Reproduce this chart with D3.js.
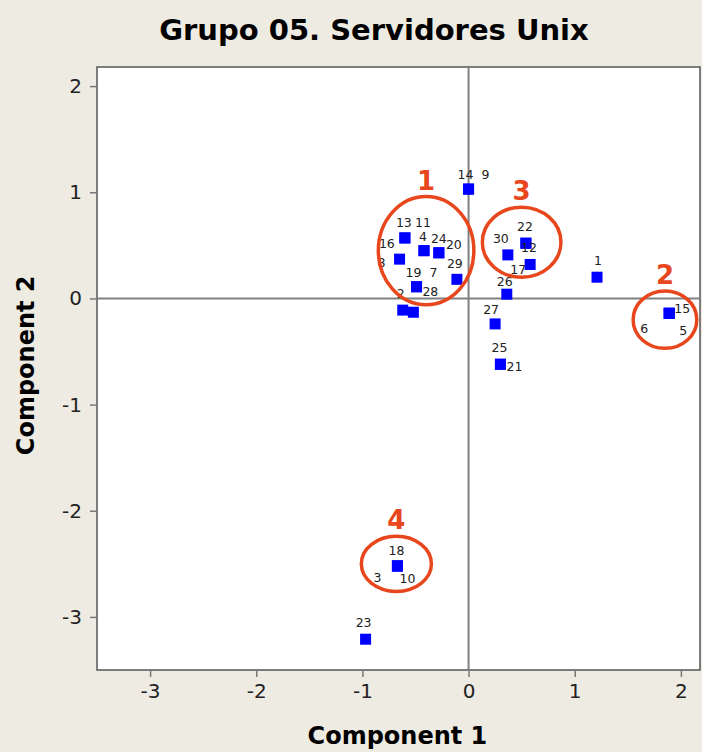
<!DOCTYPE html>
<html>
<head>
<meta charset="utf-8">
<script src="https://cdn.jsdelivr.net/npm/d3@7"></script>
<style>
  body { margin: 0; background: #eeebe2; }
  .tick-lbl { font-family: "DejaVu Sans", Verdana, sans-serif; font-size: 20px; fill: #222; }
  .pt-lbl { font-family: "DejaVu Sans", Verdana, sans-serif; font-size: 12.5px; fill: #222; }
  .ttl { font-family: "DejaVu Sans", Verdana, sans-serif; font-weight: bold; fill: #000; }
</style>
</head>
<body>
<div id="chart"></div>
<script>
// observations (score plot, components 1 and 2)
const obsIds = [1, 2, 3, 4, 5, 6, 7, 8, 9, 10, 11, 12, 13, 14, 15, 16, 17, 18, 19, 20, 21, 22, 23, 24, 25, 26, 27, 28, 29, 30];
const comp1 = [1.21, -0.62, -0.67, -0.42, 1.89, 1.89, -0.49, -0.65, 0.0, -0.67, -0.42, 0.54, -0.6, 0.0, 1.89, -0.6, 0.58, -0.67, -0.49, -0.28, 0.3, 0.54, -0.97, -0.28, 0.3, 0.36, 0.25, -0.52, -0.11, 0.37];
const comp2 = [0.2, -0.11, -2.52, 0.45, -0.14, -0.14, 0.11, 0.37, 1.03, -2.52, 0.45, 0.52, 0.57, 1.03, -0.14, 0.57, 0.32, -2.52, 0.11, 0.43, -0.62, 0.52, -3.21, 0.43, -0.62, 0.04, -0.24, -0.13, 0.18, 0.41];
const xTicks = [-3, -2, -1, 0, 1, 2];
const yTicks = [-3, -2, -1, 0, 1, 2];

// hand-drawn cluster marks
const groupIds = ['1', '2', '3', '4'];
const groupCx = [-0.4, 1.85, 0.5, -0.68];
const groupCy = [0.45, -0.2, 0.53, -2.5];
const groupRx = [0.45, 0.3, 0.37, 0.33];
const groupRy = [0.51, 0.27, 0.33, 0.26];

// label offsets (px) around each marker
const labelOffsets = {
  1: [1, -16], 2: [-2, -16], 3: [-20, 12], 4: [-1, -14], 5: [14, 18], 6: [-25, 16],
  7: [17, -14], 8: [-18, 4], 9: [17, -14], 10: [10, 13], 11: [-1, -28], 12: [3, 5],
  13: [-1, -15], 14: [-3, -14], 15: [13, -4], 16: [-18, 6], 17: [-12, 6], 18: [-1, -15],
  19: [-3, -14], 20: [15, -8], 21: [14, 3], 22: [-1, -16], 23: [-2, -16], 24: [0, -14],
  25: [-1, -16], 26: [-2, -12], 27: [-4, -14], 28: [17, -20], 29: [-2, -15], 30: [-7, -16]
};

const W = 702, H = 752;
const m = { left: 97, right: 2, top: 67, bottom: 82 };

const svg = d3.select('#chart').append('svg').attr('width', W).attr('height', H);
svg.append('rect').attr('width', W).attr('height', H).attr('fill', '#eeebe2');

const x = d3.scaleLinear().domain([-3.5, 2.18]).range([m.left, W - m.right]);
const y = d3.scaleLinear().domain([-3.5, 2.18]).range([H - m.bottom, m.top]);

// plot area
svg.append('rect')
  .attr('x', x(-3.5)).attr('y', y(2.18))
  .attr('width', x(2.18) - x(-3.5)).attr('height', y(-3.5) - y(2.18))
  .attr('fill', '#fff').attr('stroke', '#555').attr('stroke-width', 1.5);

// axes
const xAxis = svg.append('g').attr('transform', 'translate(0,' + y(-3.5) + ')')
  .call(d3.axisBottom(x).tickValues(xTicks).tickSize(7).tickPadding(7));
const yAxis = svg.append('g').attr('transform', 'translate(' + x(-3.5) + ',0)')
  .call(d3.axisLeft(y).tickValues(yTicks).tickSize(7).tickPadding(8));
[xAxis, yAxis].forEach(a => {
  a.select('.domain').remove();
  a.selectAll('line').attr('stroke', '#777').attr('stroke-width', 1.5);
  a.selectAll('text').attr('class', 'tick-lbl').attr('font-size', null).attr('font-family', null)
    .text(d => String(d));
});

// reference lines
svg.append('line').attr('x1', x(0)).attr('x2', x(0)).attr('y1', y(2.18)).attr('y2', y(-3.5))
  .attr('stroke', '#808080').attr('stroke-width', 2);
svg.append('line').attr('x1', x(-3.5)).attr('x2', x(2.18)).attr('y1', y(0)).attr('y2', y(0))
  .attr('stroke', '#808080').attr('stroke-width', 2);

// points
const pts = obsIds.map((id, i) => ({ id: id, c1: comp1[i], c2: comp2[i] }));
svg.selectAll('.pt').data(pts).enter().append('rect')
  .attr('class', 'pt')
  .attr('x', d => x(d.c1) - 5.5).attr('y', d => y(d.c2) - 5.5)
  .attr('width', 11).attr('height', 11)
  .attr('fill', '#0000ff');

svg.selectAll('.pt-lbl').data(pts).enter().append('text')
  .attr('class', 'pt-lbl')
  .attr('text-anchor', 'middle')
  .attr('x', d => x(d.c1) + labelOffsets[d.id][0])
  .attr('y', d => y(d.c2) + labelOffsets[d.id][1] + 4)
  .text(d => d.id);

// cluster ellipses
const groups = groupIds.map((g, i) => ({ g: g, cx: groupCx[i], cy: groupCy[i], rx: groupRx[i], ry: groupRy[i] }));
svg.selectAll('.grp').data(groups).enter().append('ellipse')
  .attr('cx', d => x(d.cx)).attr('cy', d => y(d.cy))
  .attr('rx', d => x(d.rx) - x(0)).attr('ry', d => y(0) - y(d.ry))
  .attr('fill', 'none').attr('stroke', '#e8461c').attr('stroke-width', 3.5);
svg.selectAll('.grp-lbl').data(groups).enter().append('text')
  .attr('x', d => x(d.cx)).attr('y', d => y(d.cy + d.ry) - 7)
  .attr('text-anchor', 'middle')
  .attr('font-family', 'DejaVu Sans, sans-serif').attr('font-weight', 'bold').attr('font-size', 26)
  .attr('fill', '#e8461c')
  .text(d => d.g);

// titles
svg.append('text').attr('class', 'ttl').attr('x', 374).attr('y', 40)
  .attr('text-anchor', 'middle').attr('font-size', 29).text('Grupo 05. Servidores Unix');
svg.append('text').attr('class', 'ttl').attr('x', x(-0.67)).attr('y', 744)
  .attr('text-anchor', 'middle').attr('font-size', 24).text('Component 1');
svg.append('text').attr('class', 'ttl')
  .attr('transform', 'translate(34,' + y(-0.63) + ') rotate(-90)')
  .attr('text-anchor', 'middle').attr('font-size', 24).text('Component 2');
</script>
</body>
</html>
